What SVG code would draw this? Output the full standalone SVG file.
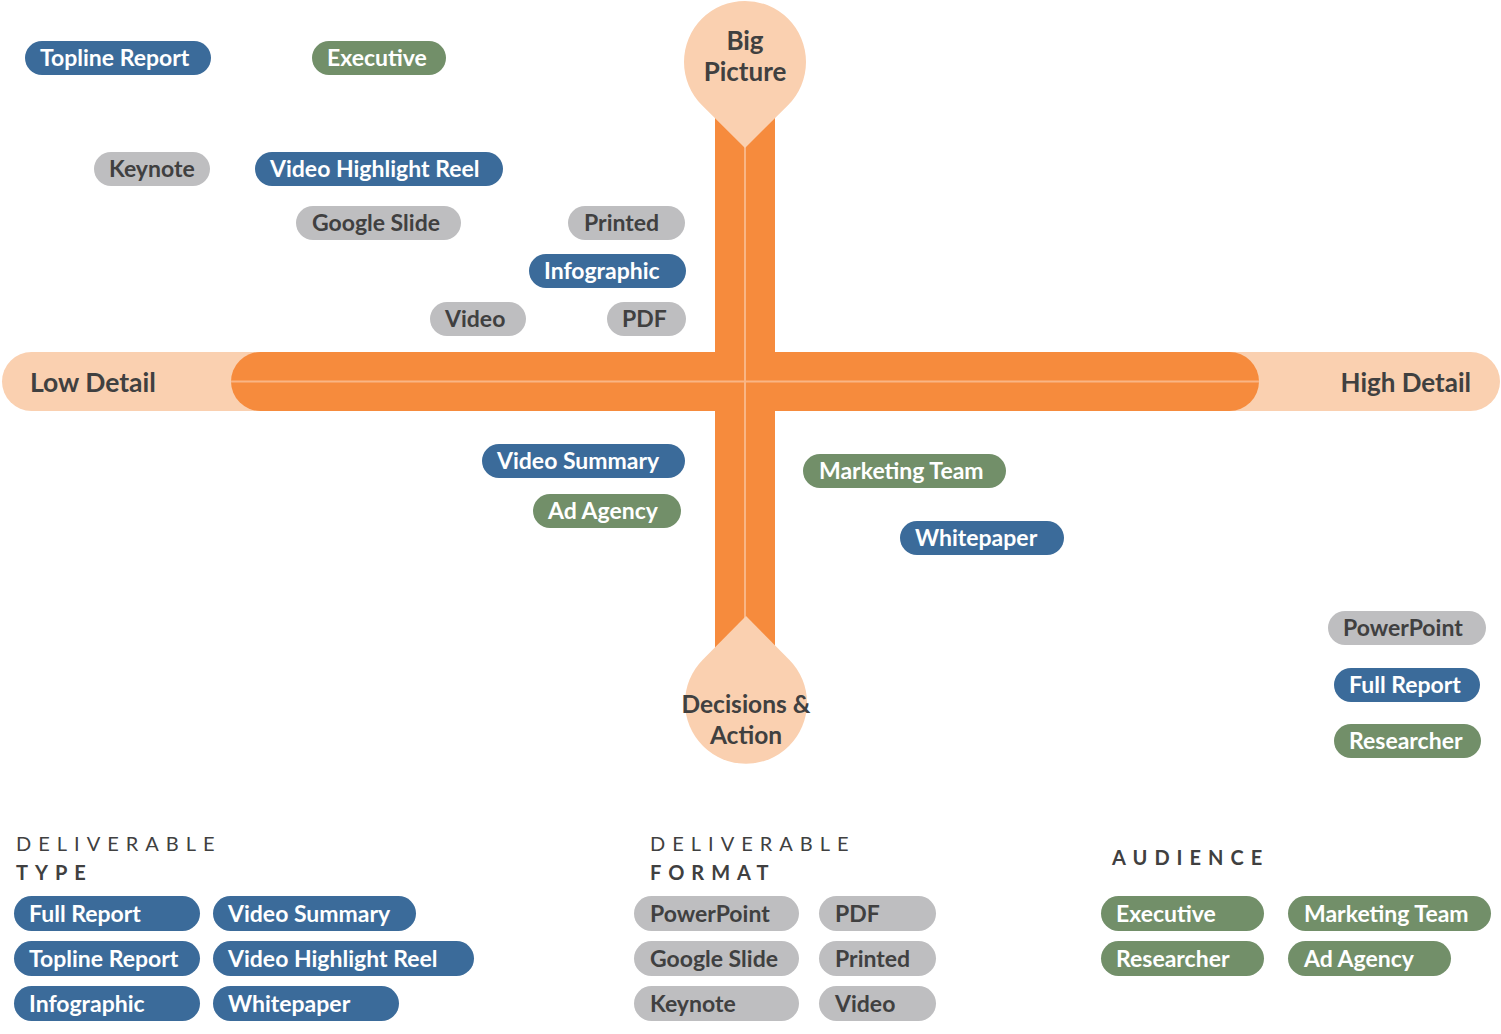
<svg xmlns="http://www.w3.org/2000/svg" width="1501" height="1034" viewBox="0 0 1501 1034">
<style>
.peach{fill:#FAD0B0}
.orange{fill:#F68B3D}
.seam{stroke:#F9B585;stroke-width:2;fill:none}
.pb{fill:#3B6B9A}
.pg{fill:#728F69}
.px{fill:#BEBEC0}
.t{font-family:Lato,"Open Sans",sans-serif;font-weight:700;font-size:23px}
.w{fill:#FFFFFF}
.d{fill:#404040}
.big{font-family:Lato,"Open Sans",sans-serif;font-weight:700;font-size:26px;fill:#404040}
.dec{font-size:24.5px}
.leg{font-family:Lato,"Open Sans",sans-serif;font-size:20px;fill:#404040;letter-spacing:7px}
.legb{font-weight:700}
</style>
<rect width="1501" height="1034" fill="#FFFFFF"/>
<g id="axes">
<rect class="peach" x="2" y="352" width="1498" height="59" rx="29.5"/>
<rect class="orange" x="231" y="352" width="1028" height="59" rx="29.5"/>
<rect class="orange" x="715" y="100" width="60" height="550"/>
<line class="seam" x1="231" y1="381.5" x2="1259" y2="381.5"/>
<line class="seam" x1="745" y1="100" x2="745" y2="650"/>
</g>
<g id="big-picture">
<path class="peach" d="M745,148 L702,105.2 A61,61 0 1 1 788,105.2 Z"/>
<text class="big" x="745" y="50" text-anchor="middle">Big</text>
<text class="big" x="745" y="81" text-anchor="middle">Picture</text>
</g>
<g id="decisions-action">
<path class="peach" d="M746,616 L789.5,660 A61,61 0 1 1 702.5,660 Z"/>
<text class="big dec" x="746" y="713" text-anchor="middle">Decisions &amp;</text>
<text class="big dec" x="746" y="744" text-anchor="middle">Action</text>
</g>
<g id="low-detail"><text class="big" x="30" y="392" style="font-size:26.5px">Low Detail</text></g>
<g id="high-detail"><text class="big" x="1471" y="392" text-anchor="end">High Detail</text></g>

<g id="n-topline"><rect class="pb" x="25" y="41" width="186" height="34" rx="17"/><text class="t w" x="40" y="66">Topline Report</text></g>
<g id="n-executive"><rect class="pg" x="312" y="41" width="134" height="34" rx="17"/><text class="t w" x="327" y="66">Executive</text></g>
<g id="n-keynote"><rect class="px" x="94" y="152" width="116" height="34" rx="17"/><text class="t d" x="109" y="177">Keynote</text></g>
<g id="n-vhr"><rect class="pb" x="255" y="152" width="248" height="34" rx="17"/><text class="t w" x="270" y="177">Video Highlight Reel</text></g>
<g id="n-gslide"><rect class="px" x="296" y="206" width="165" height="34" rx="17"/><text class="t d" x="312" y="231">Google Slide</text></g>
<g id="n-printed"><rect class="px" x="568" y="206" width="117" height="34" rx="17"/><text class="t d" x="584" y="231">Printed</text></g>
<g id="n-infographic"><rect class="pb" x="529" y="254" width="157" height="34" rx="17"/><text class="t w" x="544" y="279">Infographic</text></g>
<g id="n-video"><rect class="px" x="430" y="302" width="96" height="34" rx="17"/><text class="t d" x="445" y="327">Video</text></g>
<g id="n-pdf"><rect class="px" x="607" y="302" width="79" height="34" rx="17"/><text class="t d" x="622" y="327">PDF</text></g>
<g id="n-vsummary"><rect class="pb" x="482" y="444" width="203" height="34" rx="17"/><text class="t w" x="497" y="469">Video Summary</text></g>
<g id="n-adagency"><rect class="pg" x="533" y="494" width="148" height="34" rx="17"/><text class="t w" x="548" y="519">Ad Agency</text></g>
<g id="n-marketing"><rect class="pg" x="803" y="454" width="203" height="34" rx="17"/><text class="t w" x="819" y="479">Marketing Team</text></g>
<g id="n-whitepaper"><rect class="pb" x="900" y="521" width="164" height="34" rx="17"/><text class="t w" x="915" y="546">Whitepaper</text></g>
<g id="n-powerpoint"><rect class="px" x="1328" y="611" width="158" height="34" rx="17"/><text class="t d" x="1343" y="636">PowerPoint</text></g>
<g id="n-fullreport"><rect class="pb" x="1334" y="668" width="146" height="34" rx="17"/><text class="t w" x="1349" y="693">Full Report</text></g>
<g id="n-researcher"><rect class="pg" x="1334" y="724" width="147" height="34" rx="17"/><text class="t w" x="1349" y="749">Researcher</text></g>

<g id="legend-type">
<text class="leg" x="16" y="851">DELIVERABLE</text>
<text class="leg legb" x="16" y="880">TYPE</text>
<rect class="pb" x="14" y="896" width="186" height="35" rx="17.5"/><text class="t w" x="29" y="922">Full Report</text>
<rect class="pb" x="213" y="896" width="203" height="35" rx="17.5"/><text class="t w" x="228" y="922">Video Summary</text>
<rect class="pb" x="14" y="941" width="186" height="35" rx="17.5"/><text class="t w" x="29" y="967">Topline Report</text>
<rect class="pb" x="213" y="941" width="261" height="35" rx="17.5"/><text class="t w" x="228" y="967">Video Highlight Reel</text>
<rect class="pb" x="14" y="986" width="186" height="35" rx="17.5"/><text class="t w" x="29" y="1012">Infographic</text>
<rect class="pb" x="213" y="986" width="186" height="35" rx="17.5"/><text class="t w" x="228" y="1012">Whitepaper</text>
</g>
<g id="legend-format">
<text class="leg" x="650" y="851">DELIVERABLE</text>
<text class="leg legb" x="650" y="880">FORMAT</text>
<rect class="px" x="634" y="896" width="165" height="35" rx="17.5"/><text class="t d" x="650" y="922">PowerPoint</text>
<rect class="px" x="819" y="896" width="117" height="35" rx="17.5"/><text class="t d" x="835" y="922">PDF</text>
<rect class="px" x="634" y="941" width="165" height="35" rx="17.5"/><text class="t d" x="650" y="967">Google Slide</text>
<rect class="px" x="819" y="941" width="117" height="35" rx="17.5"/><text class="t d" x="835" y="967">Printed</text>
<rect class="px" x="634" y="986" width="165" height="35" rx="17.5"/><text class="t d" x="650" y="1012">Keynote</text>
<rect class="px" x="819" y="986" width="117" height="35" rx="17.5"/><text class="t d" x="835" y="1012">Video</text>
</g>
<g id="legend-audience">
<text class="leg legb" x="1112" y="865">AUDIENCE</text>
<rect class="pg" x="1101" y="896" width="163" height="35" rx="17.5"/><text class="t w" x="1116" y="922">Executive</text>
<rect class="pg" x="1288" y="896" width="203" height="35" rx="17.5"/><text class="t w" x="1304" y="922">Marketing Team</text>
<rect class="pg" x="1101" y="941" width="163" height="35" rx="17.5"/><text class="t w" x="1116" y="967">Researcher</text>
<rect class="pg" x="1288" y="941" width="163" height="35" rx="17.5"/><text class="t w" x="1304" y="967">Ad Agency</text>
</g>
</svg>
